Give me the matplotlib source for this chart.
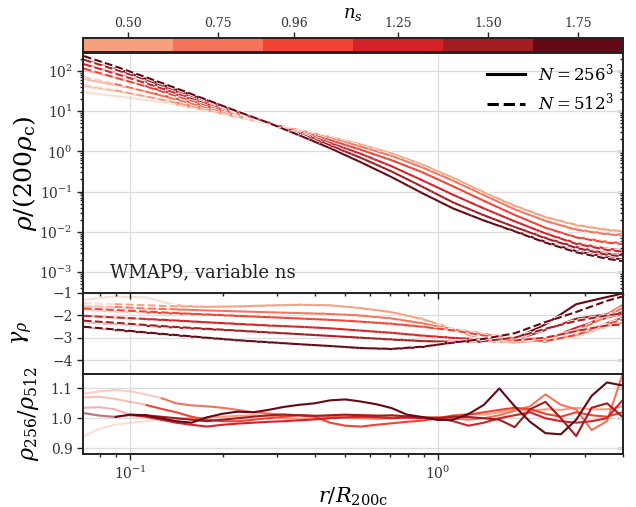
import numpy as np
import matplotlib
matplotlib.use("Agg")
import matplotlib.pyplot as plt
import matplotlib.patheffects as pe
from matplotlib.colors import ListedColormap, BoundaryNorm
from matplotlib.cm import ScalarMappable
from matplotlib.lines import Line2D
from matplotlib.ticker import LogLocator, NullFormatter

plt.rcParams['font.family'] = ['DejaVu Serif']
plt.rcParams['mathtext.fontset'] = 'dejavuserif'

# ---------------- data ----------------
ns_values = [0.50, 0.75, 0.96, 1.25, 1.50, 1.75]
ns_labels = ['0.50', '0.75', '0.96', '1.25', '1.50', '1.75']
ns_bounds = [0.375, 0.625, 0.875, 1.125, 1.375, 1.625, 1.875]
colors = ['#f7a07f', '#f4735a', '#f14232', '#d42228', '#a31c21', '#650815']
rconv_256 = [0.14, 0.125, 0.11, 0.099, 0.099, 0.088]
rconv_512 = [0.08, 0.075, 0.07, 0.07, 0.07, 0.07]

# profile radii (log10 r/R200c)
log_r = [-1.15, -1.05, -0.95, -0.85, -0.75, -0.65, -0.55, -0.45, -0.35, -0.25,
         -0.15, -0.05, 0.05, 0.15, 0.25, 0.35, 0.45, 0.55, 0.61]

# log10 rho/(200 rho_c), N=256^3
logrho_256 = [
    [1.47, 1.38, 1.28, 1.17, 1.02, 0.85, 0.69, 0.53, 0.36, 0.17, -0.05, -0.33, -0.66, -1.02, -1.36, -1.64, -1.84, -1.96, -2.00],
    [1.62, 1.50, 1.37, 1.22, 1.06, 0.89, 0.71, 0.52, 0.33, 0.12, -0.11, -0.40, -0.73, -1.09, -1.44, -1.73, -1.94, -2.05, -2.08],
    [1.80, 1.65, 1.49, 1.31, 1.12, 0.92, 0.72, 0.50, 0.28, 0.04, -0.22, -0.52, -0.87, -1.23, -1.58, -1.90, -2.13, -2.25, -2.29],
    [2.02, 1.84, 1.63, 1.41, 1.18, 0.95, 0.72, 0.47, 0.21, -0.06, -0.37, -0.72, -1.08, -1.42, -1.74, -2.04, -2.28, -2.42, -2.47],
    [2.18, 1.97, 1.74, 1.49, 1.24, 0.98, 0.72, 0.44, 0.15, -0.16, -0.50, -0.88, -1.27, -1.59, -1.88, -2.15, -2.38, -2.54, -2.59],
    [2.30, 2.07, 1.81, 1.54, 1.27, 0.99, 0.71, 0.40, 0.08, -0.27, -0.64, -1.04, -1.42, -1.72, -1.98, -2.25, -2.48, -2.63, -2.70],
]
# log10 rho/(200 rho_c), N=512^3
logrho_512 = [
    [1.66, 1.52, 1.37, 1.21, 1.04, 0.86, 0.69, 0.53, 0.36, 0.17, -0.05, -0.33, -0.66, -1.02, -1.35, -1.63, -1.83, -1.95, -1.99],
    [1.86, 1.68, 1.49, 1.29, 1.09, 0.90, 0.71, 0.52, 0.33, 0.12, -0.11, -0.40, -0.73, -1.09, -1.44, -1.73, -1.95, -2.06, -2.10],
    [2.06, 1.84, 1.62, 1.38, 1.15, 0.93, 0.72, 0.50, 0.28, 0.04, -0.22, -0.52, -0.87, -1.23, -1.58, -1.90, -2.14, -2.27, -2.31],
    [2.17, 1.94, 1.70, 1.45, 1.20, 0.96, 0.72, 0.47, 0.21, -0.06, -0.37, -0.72, -1.08, -1.42, -1.74, -2.04, -2.30, -2.45, -2.50],
    [2.28, 2.04, 1.79, 1.52, 1.25, 0.98, 0.72, 0.44, 0.15, -0.16, -0.50, -0.88, -1.27, -1.59, -1.88, -2.16, -2.40, -2.57, -2.62],
    [2.37, 2.12, 1.85, 1.57, 1.28, 0.99, 0.71, 0.40, 0.08, -0.27, -0.64, -1.04, -1.42, -1.72, -1.99, -2.27, -2.51, -2.67, -2.74],
]

# logarithmic slope gamma_rho
gamma_256 = [
    [-1.30, -1.15, -1.20, -1.55, -1.62, -1.60, -1.55, -1.52, -1.55, -1.68, -1.85, -2.15, -2.60, -3.15, -3.20, -3.12, -2.95, -2.50, -2.28],
    [-1.61, -1.66, -1.71, -1.74, -1.78, -1.82, -1.86, -1.90, -1.93, -2.00, -2.13, -2.35, -2.60, -2.82, -3.00, -3.08, -2.65, -1.95, -1.46],
    [-1.76, -1.82, -1.87, -1.92, -1.97, -2.03, -2.08, -2.14, -2.20, -2.28, -2.37, -2.50, -2.65, -2.88, -3.07, -3.18, -2.85, -2.35, -2.06],
    [-2.03, -2.10, -2.17, -2.24, -2.31, -2.39, -2.46, -2.51, -2.58, -2.68, -2.78, -2.90, -3.00, -3.08, -3.15, -3.10, -2.55, -2.10, -1.90],
    [-2.31, -2.39, -2.47, -2.55, -2.62, -2.69, -2.77, -2.84, -2.92, -3.00, -3.07, -3.15, -3.18, -3.18, -3.12, -2.65, -2.15, -1.95, -1.84],
    [-2.54, -2.66, -2.78, -2.90, -3.01, -3.12, -3.21, -3.29, -3.37, -3.46, -3.51, -3.42, -3.20, -3.10, -3.05, -2.40, -1.50, -1.18, -1.00],
]
gamma_512 = [
    [-1.45, -1.50, -1.55, -1.60, -1.62, -1.60, -1.56, -1.53, -1.55, -1.67, -1.86, -2.17, -2.62, -3.12, -3.22, -3.10, -2.90, -2.48, -2.30],
    [-1.57, -1.63, -1.69, -1.73, -1.78, -1.82, -1.86, -1.90, -1.94, -2.01, -2.14, -2.36, -2.62, -2.85, -3.02, -3.05, -2.70, -2.05, -1.60],
    [-1.69, -1.76, -1.83, -1.90, -1.96, -2.02, -2.08, -2.14, -2.20, -2.28, -2.38, -2.51, -2.67, -2.90, -3.08, -3.15, -2.88, -2.40, -2.15],
    [-2.02, -2.09, -2.16, -2.23, -2.31, -2.38, -2.45, -2.51, -2.58, -2.68, -2.78, -2.91, -3.01, -3.08, -3.12, -3.00, -2.70, -2.45, -2.40],
    [-2.24, -2.33, -2.43, -2.52, -2.60, -2.68, -2.76, -2.84, -2.92, -3.00, -3.08, -3.15, -3.18, -3.15, -3.00, -2.60, -2.25, -2.00, -1.90],
    [-2.51, -2.63, -2.76, -2.88, -3.00, -3.11, -3.20, -3.29, -3.37, -3.46, -3.50, -3.40, -3.22, -3.05, -2.80, -2.30, -1.85, -1.35, -1.12],
]

# ratio panel radii (log10 r/R200c)
ratio_log_r = [-1.15, -1.10, -1.05, -1.00, -0.95, -0.90, -0.85, -0.80, -0.75, -0.70,
               -0.65, -0.60, -0.55, -0.50, -0.45, -0.40, -0.35, -0.30, -0.25, -0.20,
               -0.15, -0.10, -0.05, 0.00, 0.05, 0.10, 0.15, 0.20, 0.25, 0.30,
               0.35, 0.40, 0.45, 0.50, 0.55, 0.60]
ratio_256_512 = [
    [0.940, 0.965, 0.978, 0.985, 0.990, 0.995, 0.998, 1.000, 1.002, 1.005, 1.008, 1.010, 1.006, 1.000, 0.998, 1.000, 1.004, 1.010,
     1.012, 1.010, 1.006, 1.002, 1.000, 1.000, 1.010, 1.015, 1.012, 1.020, 1.030, 1.025, 1.030, 1.028, 1.035, 1.030, 1.030, 1.040],
    [1.082, 1.090, 1.094, 1.090, 1.080, 1.068, 1.050, 1.043, 1.040, 1.035, 1.028, 1.020, 1.016, 1.012, 1.010, 1.008, 1.005, 1.002,
     1.000, 0.998, 1.000, 1.005, 1.002, 1.004, 1.000, 0.995, 1.000, 1.010, 1.025, 1.040, 1.080, 1.045, 1.030, 0.960, 0.990, 1.145],
    [1.070, 1.072, 1.065, 1.055, 1.045, 1.032, 1.020, 1.005, 0.995, 0.990, 0.990, 0.995, 1.000, 1.005, 1.010, 1.005, 0.985, 0.975,
     0.972, 0.978, 0.983, 0.988, 0.992, 1.000, 1.008, 1.012, 1.020, 1.028, 1.035, 1.030, 1.015, 1.005, 1.020, 1.010, 1.005, 1.020],
    [1.035, 1.037, 1.030, 1.012, 1.005, 0.995, 0.985, 0.978, 0.972, 0.978, 0.982, 0.985, 0.988, 0.990, 0.993, 0.996, 1.000, 1.003,
     1.005, 1.004, 1.000, 1.002, 1.000, 1.000, 0.990, 0.975, 0.985, 1.000, 1.010, 1.020, 1.000, 0.990, 0.985, 0.990, 1.000, 1.060],
    [1.017, 1.010, 1.005, 1.010, 1.010, 1.005, 1.000, 0.995, 0.990, 0.995, 1.000, 1.005, 1.010, 1.012, 1.010, 1.008, 1.010, 1.012,
     1.010, 1.008, 1.010, 1.006, 1.003, 1.000, 1.005, 1.004, 1.000, 0.995, 0.970, 1.030, 1.055, 1.000, 0.940, 1.035, 1.050, 1.005],
    [1.017, 1.008, 1.004, 1.012, 1.010, 1.000, 0.990, 0.985, 1.003, 1.015, 1.022, 1.020, 1.028, 1.038, 1.045, 1.050, 1.060, 1.063,
     1.056, 1.047, 1.034, 1.012, 1.004, 0.994, 0.995, 1.014, 1.045, 1.100, 1.040, 0.988, 0.950, 0.946, 0.995, 1.075, 1.120, 1.110],
]

# ---------------- figure ----------------
W, H = 636, 507
fig = plt.figure(figsize=(W / 100, H / 100), dpi=100)
xl, xr = 83 / W, 623 / W
ax1 = fig.add_axes([xl, 1 - 293 / H, xr - xl, 240 / H])
ax2 = fig.add_axes([xl, 1 - 373.5 / H, xr - xl, 80.5 / H])
ax3 = fig.add_axes([xl, 1 - 454 / H, xr - xl, 80.5 / H])
cax = fig.add_axes([xl, 1 - 51.7 / H, xr - xl, 13.4 / H])
ax1.set_zorder(3)

spine_c = '#222222'
grid_c = '#dcdcdc'
LW = 1.5
FADE = 0.35
dash_fx = [pe.Stroke(linewidth=LW + 1.3, foreground='white'), pe.Normal()]


def draw(ax, x, y, color, rc, ls):
    x = np.asarray(x)
    y = np.asarray(y)
    i0 = int(np.argmax(x >= rc))
    fx = dash_fx if ls == '--' else None
    if i0 > 0:
        ax.plot(x[:i0 + 1], y[:i0 + 1], color=color, alpha=FADE, ls=ls, lw=LW,
                solid_capstyle='butt')
    ax.plot(x[i0:], y[i0:], color=color, ls=ls, lw=LW, path_effects=fx,
            solid_capstyle='butt')


r_prof = 10 ** np.asarray(log_r)
r_ratio = 10 ** np.asarray(ratio_log_r)

for k in range(len(ns_values)):
    c = colors[k]
    draw(ax1, r_prof, 10 ** np.asarray(logrho_256[k]), c, rconv_256[k], '-')
    draw(ax2, r_prof, gamma_256[k], c, rconv_256[k], '-')
for k in range(len(ns_values)):
    c = colors[k]
    draw(ax1, r_prof, 10 ** np.asarray(logrho_512[k]), c, rconv_512[k], '--')
    draw(ax2, r_prof, gamma_512[k], c, rconv_512[k], '--')
for k in range(len(ns_values)):
    draw(ax3, r_ratio, ratio_256_512[k], colors[k], rconv_256[k], '-')

for ax in (ax1, ax2, ax3):
    ax.set_xscale('log')
    ax.set_xlim(0.0703, 4.0)
    for s in ax.spines.values():
        s.set_color(spine_c)
        s.set_linewidth(1.4)
    ax.grid(True, which='major', color=grid_c, lw=0.9)
    ax.set_axisbelow(True)
    ax.tick_params(which='both', direction='out', colors=spine_c, labelsize=10,
                   labelcolor='#333333', width=1.0, top=False, right=False, pad=3)
    ax.tick_params(which='major', length=4.5)
    ax.tick_params(which='minor', length=2.5)
    sec = ax.secondary_yaxis('right')
    sec.tick_params(which='both', direction='in', labelright=False, colors=spine_c, width=1.0)
    sec.tick_params(which='major', length=4.5)
    sec.tick_params(which='minor', length=2.5)
    sec.spines['right'].set_visible(False)

ax1.set_yscale('log')
ax1.set_ylim(3e-4, 280)
ax1.yaxis.set_major_locator(LogLocator(base=10, numticks=12))
ax1.yaxis.set_minor_locator(LogLocator(base=10, subs=np.arange(2, 10) * 1.0, numticks=12))
ax1.yaxis.set_minor_formatter(NullFormatter())
ax1.tick_params(axis='x', labelbottom=False)
ax1.set_ylabel(r'$\rho/(200\rho_{\rm c})$', fontsize=18)
ax1.yaxis.set_label_coords(-0.082, 0.5)

ax2.set_ylim(-4.6, -1)
ax2.set_yticks([-4, -3, -2, -1])
ax2.tick_params(axis='x', which='both', bottom=False, labelbottom=False)
ax2.set_ylabel(r'$\gamma_\rho$', fontsize=16)
ax2.yaxis.set_label_coords(-0.088, 0.5)

ax3.set_ylim(0.88, 1.15)
ax3.set_yticks([0.9, 1.0, 1.1])
ax3.set_ylabel(r'$\rho_{256}/\rho_{512}$', fontsize=16)
ax3.yaxis.set_label_coords(-0.078, 0.5)
ax3.set_xlabel(r'$r/R_{\rm 200c}$', fontsize=15, labelpad=3)

ax1.text(0.05, 0.05, 'WMAP9, variable ns', transform=ax1.transAxes,
         fontsize=13, va='bottom', ha='left', color='#222222')

handles = [Line2D([], [], color='k', lw=2.2, ls='-'),
           Line2D([], [], color='k', lw=2.2, ls='--')]
ax1.legend(handles, [r'$N = 256^3$', r'$N = 512^3$'], loc='upper right',
           frameon=False, fontsize=12, handlelength=2.3, borderaxespad=0.15,
           labelspacing=0.45)

# colorbar
cmap = ListedColormap(colors)
norm = BoundaryNorm(ns_bounds, cmap.N)
cb = fig.colorbar(ScalarMappable(norm=norm, cmap=cmap), cax=cax,
                  orientation='horizontal', ticklocation='top')
cb.set_ticks(ns_values)
cb.set_ticklabels(ns_labels)
cb.minorticks_off()
cb.outline.set_linewidth(1.4)
cb.outline.set_edgecolor(spine_c)
cax.tick_params(direction='out', length=4, width=1.0, labelsize=9, pad=2,
                colors=spine_c, labelcolor='#333333')
cb.set_label(r'$n_s$', fontsize=13, labelpad=-1)

fig.savefig('out.png', dpi=100)
